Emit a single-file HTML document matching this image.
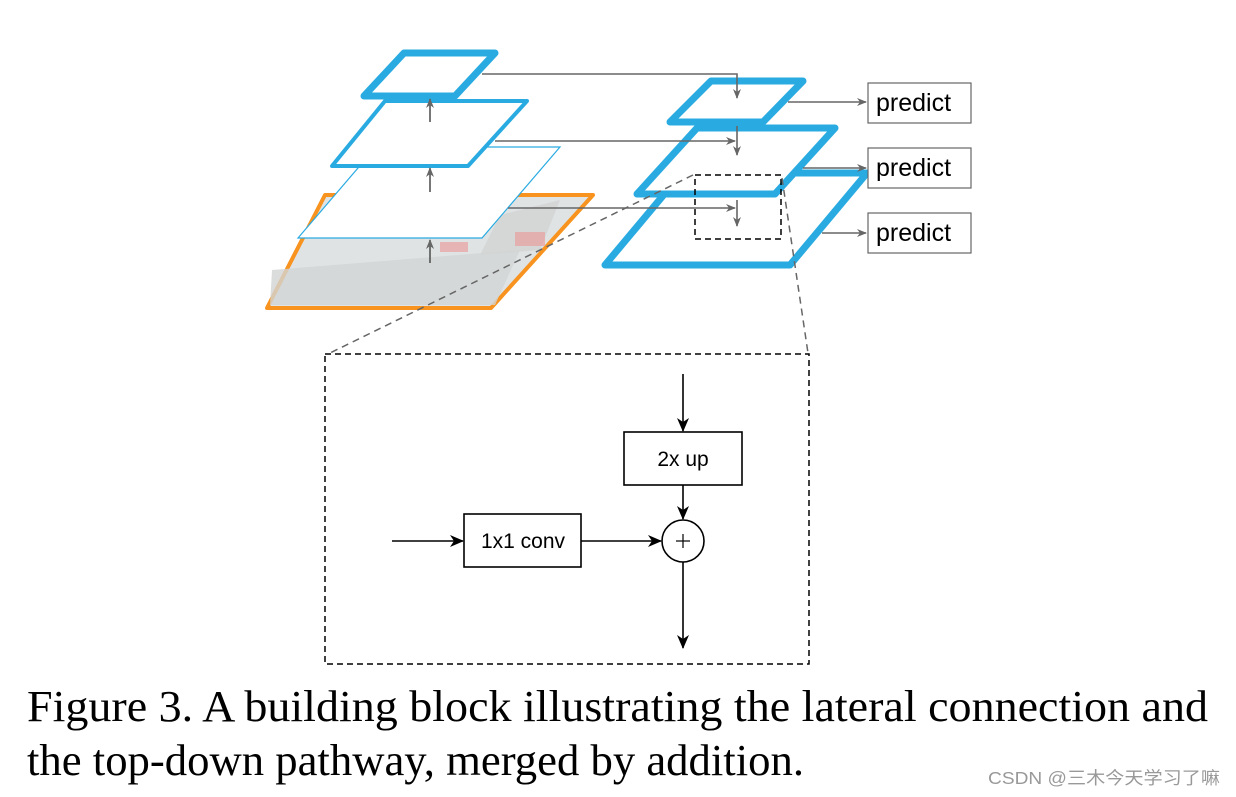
<!DOCTYPE html>
<html><head><meta charset="utf-8"><style>
html,body{margin:0;padding:0;background:#fff;width:1236px;height:797px;overflow:hidden}
</style></head><body>
<svg width="1236" height="797" viewBox="0 0 1236 797" xmlns="http://www.w3.org/2000/svg">
<defs>
<marker id="g" markerWidth="10" markerHeight="10" refX="9" refY="5" orient="auto" markerUnits="userSpaceOnUse"><path d="M0,1 L10,5 L0,9 L3,5z" fill="#666"/></marker>
<marker id="k" markerWidth="14" markerHeight="14" refX="13" refY="7" orient="auto" markerUnits="userSpaceOnUse"><path d="M0,1 L14,7 L0,13 L4,7z" fill="#000"/></marker>
</defs>
<polygon points="325,195 593,195 491,308 267,308" fill="#dfe3e4" stroke="#f7931e" stroke-width="4" stroke-linejoin="round"/>
<polygon points="500,215 560,200 540,250 480,255" fill="#cfcfcf" opacity="0.6"/>
<polygon points="272,270 520,250 495,305 270,305" fill="#d2d5d5" opacity="0.8"/>
<rect x="515" y="232" width="30" height="14" fill="#e8a0a0" opacity="0.7"/>
<rect x="440" y="242" width="28" height="10" fill="#e8a0a0" opacity="0.7"/>
<polygon points="376,147 560,147 482,238 298,238" fill="#fff" stroke="#29abe2" stroke-width="1.2"/>
<polygon points="385,101 527,101 468,166 332,166" fill="#fff" stroke="#29abe2" stroke-width="4" stroke-linejoin="round"/>
<polygon points="404,53 495,53 455,96 364,96" fill="#fff" stroke="#29abe2" stroke-width="7" stroke-linejoin="round"/>
<g stroke="#555" stroke-width="1.6" fill="none">
<line x1="430" y1="122" x2="430" y2="99" marker-end="url(#g)"/>
<line x1="430" y1="192" x2="430" y2="168" marker-end="url(#g)"/>
<line x1="430" y1="263" x2="430" y2="240" marker-end="url(#g)"/>
</g>
<polygon points="682,173 867,173 790,265 605,265" fill="#fff" stroke="#29abe2" stroke-width="7" stroke-linejoin="round"/>
<polygon points="697,128 835,128 775,194 637,194" fill="#fff" stroke="#29abe2" stroke-width="7" stroke-linejoin="round"/>
<polygon points="711,81 803,81 763,122 670,122" fill="#fff" stroke="#29abe2" stroke-width="7" stroke-linejoin="round"/>
<g stroke="#666" stroke-width="1.6" fill="none">
<polyline points="482,74 737,74 737,98" marker-end="url(#g)"/>
<line x1="495" y1="141" x2="735" y2="141" marker-end="url(#g)"/>
<line x1="737" y1="126" x2="737" y2="155" marker-end="url(#g)"/>
<line x1="508" y1="208" x2="735" y2="208" marker-end="url(#g)"/>
<line x1="737" y1="200" x2="737" y2="226" marker-end="url(#g)"/>
<line x1="788" y1="102" x2="866" y2="102" marker-end="url(#g)"/>
<line x1="803" y1="168" x2="866" y2="168" marker-end="url(#g)"/>
<line x1="822" y1="233" x2="866" y2="233" marker-end="url(#g)"/>
</g>
<g fill="#fff" stroke="#666" stroke-width="1.2">
<rect x="868" y="83" width="103" height="40"/>
<rect x="868" y="148" width="103" height="40"/>
<rect x="868" y="213" width="103" height="40"/>
</g>
<g font-family="Liberation Sans, sans-serif" font-size="25" fill="#000">
<text x="876" y="111">predict</text>
<text x="876" y="176">predict</text>
<text x="876" y="241">predict</text>
</g>
<rect x="695" y="175" width="86" height="64" fill="none" stroke="#000" stroke-width="1.5" stroke-dasharray="6,4"/>
<line x1="693" y1="175" x2="330" y2="353" stroke="#666" stroke-width="1.5" stroke-dasharray="7,5"/>
<line x1="782" y1="178" x2="808" y2="353" stroke="#666" stroke-width="1.5" stroke-dasharray="7,5"/>
<rect x="325" y="354" width="484" height="310" fill="none" stroke="#000" stroke-width="1.5" stroke-dasharray="6,4"/>
<g stroke="#000" stroke-width="1.6" fill="none">
<line x1="683" y1="374" x2="683" y2="431" marker-end="url(#k)"/>
<rect x="624" y="432" width="118" height="53" fill="#fff"/>
<line x1="683" y1="485" x2="683" y2="519" marker-end="url(#k)"/>
<circle cx="683" cy="541" r="21" fill="#fff"/>
<line x1="392" y1="541" x2="463" y2="541" marker-end="url(#k)"/>
<rect x="464" y="514" width="117" height="53" fill="#fff"/>
<line x1="581" y1="541" x2="661" y2="541" marker-end="url(#k)"/>
<line x1="683" y1="562" x2="683" y2="648" marker-end="url(#k)"/>
<line x1="676" y1="541" x2="690" y2="541" stroke-width="1.2"/>
<line x1="683" y1="534" x2="683" y2="548" stroke-width="1.2"/>
</g>
<g font-family="Liberation Sans, sans-serif" font-size="21" fill="#000" text-anchor="middle">
<text x="683" y="466">2x up</text>
<text x="523" y="548">1x1 conv</text>
</g>
<g font-family="Liberation Serif, serif" font-size="44.5" fill="#000">
<text x="27" y="721" textLength="1181" lengthAdjust="spacingAndGlyphs">Figure 3. A building block illustrating the lateral connection and</text>
<text x="27" y="775" textLength="777" lengthAdjust="spacingAndGlyphs">the top-down pathway, merged by addition.</text>
</g>
<text x="988" y="784" font-family="Liberation Sans, Noto Sans CJK SC, sans-serif" font-size="17.5" fill="#999" textLength="232" lengthAdjust="spacingAndGlyphs">CSDN @三木今天学习了嘛</text>
</svg>
</body></html>
